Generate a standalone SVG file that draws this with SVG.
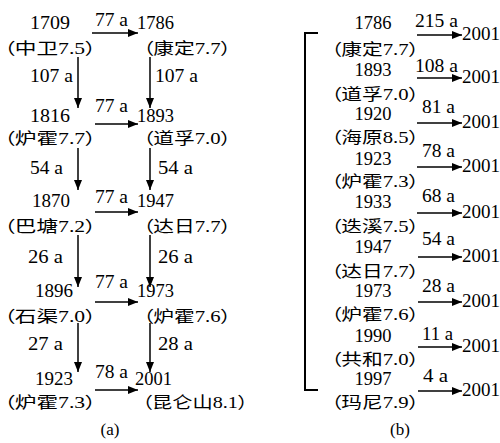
<svg xmlns="http://www.w3.org/2000/svg" width="500" height="443" viewBox="0 0 500 443">
<style>
text{font-family:"Liberation Serif","Noto Sans CJK SC",serif;fill:#000}
.y{font-size:18px}
.p{font-size:16px;font-feature-settings:"palt" 1}
.l{font-size:18px}
.c{font-size:17px}
.e{stroke:#000;stroke-width:1.5;fill:none;marker-end:url(#ah)}
.br{stroke:#000;stroke-width:2;fill:none}
</style>
<defs>
<marker id="ah" markerUnits="userSpaceOnUse" markerWidth="10" markerHeight="8" refX="10" refY="4" orient="auto">
<path d="M0,0 L10,4 L0,8 z" fill="#000"/>
</marker>
</defs>
<rect width="500" height="443" fill="#fff"/>
<g id="panel-a">
<g id="n1709"><text class="y" x="30" y="29" textLength="40" lengthAdjust="spacingAndGlyphs">1709</text><text class="p" x="4" y="54" textLength="92" lengthAdjust="spacingAndGlyphs">（中卫7.5）</text></g>
<g id="n1816"><text class="y" x="30" y="122" textLength="40" lengthAdjust="spacingAndGlyphs">1816</text><text class="p" x="4" y="144" textLength="92" lengthAdjust="spacingAndGlyphs">（炉霍7.7）</text></g>
<g id="n1870"><text class="y" x="32" y="207" textLength="38" lengthAdjust="spacingAndGlyphs">1870</text><text class="p" x="4" y="232" textLength="92" lengthAdjust="spacingAndGlyphs">（巴塘7.2）</text></g>
<g id="n1896"><text class="y" x="35" y="297" textLength="38" lengthAdjust="spacingAndGlyphs">1896</text><text class="p" x="4" y="322" textLength="92" lengthAdjust="spacingAndGlyphs">（石渠7.0）</text></g>
<g id="n1923a"><text class="y" x="35" y="385" textLength="38" lengthAdjust="spacingAndGlyphs">1923</text><text class="p" x="4" y="408" textLength="92" lengthAdjust="spacingAndGlyphs">（炉霍7.3）</text></g>
<g id="n1786a"><text class="y" x="137" y="29" textLength="37" lengthAdjust="spacingAndGlyphs">1786</text><text class="p" x="143" y="54" textLength="88" lengthAdjust="spacingAndGlyphs">（康定7.7）</text></g>
<g id="n1893a"><text class="y" x="137" y="122" textLength="37" lengthAdjust="spacingAndGlyphs">1893</text><text class="p" x="143" y="144" textLength="88" lengthAdjust="spacingAndGlyphs">（道孚7.0）</text></g>
<g id="n1947a"><text class="y" x="137" y="207" textLength="37" lengthAdjust="spacingAndGlyphs">1947</text><text class="p" x="143" y="232" textLength="88" lengthAdjust="spacingAndGlyphs">（达日7.7）</text></g>
<g id="n1973a"><text class="y" x="137" y="297" textLength="37" lengthAdjust="spacingAndGlyphs">1973</text><text class="p" x="143" y="322" textLength="88" lengthAdjust="spacingAndGlyphs">（炉霍7.6）</text></g>
<g id="n2001a"><text class="y" x="135" y="385" textLength="37" lengthAdjust="spacingAndGlyphs">2001</text><text class="p" x="142" y="408" textLength="106" lengthAdjust="spacingAndGlyphs">（昆仑山8.1）</text></g>
<g id="conn-a">
<path class="e" d="M92,33 H138"/>
<path class="e" d="M95,124 H138"/>
<path class="e" d="M95,212 H138"/>
<path class="e" d="M95,302 H138"/>
<path class="e" d="M95,390 H138"/>
<path class="e" d="M78,57 V108"/>
<path class="e" d="M78,148 V190"/>
<path class="e" d="M78,235 V287"/>
<path class="e" d="M78,323 V372"/>
<path class="e" d="M150,57 V108"/>
<path class="e" d="M150,148 V190"/>
<path class="e" d="M150,235 V287"/>
<path class="e" d="M150,323 V372"/>
<g id="labels-a">
<text class="l" x="95" y="26" textLength="33" lengthAdjust="spacingAndGlyphs">77 a</text>
<text class="l" x="95" y="112" textLength="33" lengthAdjust="spacingAndGlyphs">77 a</text>
<text class="l" x="95" y="203" textLength="33" lengthAdjust="spacingAndGlyphs">77 a</text>
<text class="l" x="95" y="288" textLength="33" lengthAdjust="spacingAndGlyphs">77 a</text>
<text class="l" x="95" y="378" textLength="33" lengthAdjust="spacingAndGlyphs">78 a</text>
<text class="l" x="30" y="82" textLength="43" lengthAdjust="spacingAndGlyphs">107 a</text>
<text class="l" x="30" y="174" textLength="33" lengthAdjust="spacingAndGlyphs">54 a</text>
<text class="l" x="28" y="263" textLength="35" lengthAdjust="spacingAndGlyphs">26 a</text>
<text class="l" x="28" y="350" textLength="35" lengthAdjust="spacingAndGlyphs">27 a</text>
<text class="l" x="155" y="82" textLength="43" lengthAdjust="spacingAndGlyphs">107 a</text>
<text class="l" x="158" y="174" textLength="35" lengthAdjust="spacingAndGlyphs">54 a</text>
<text class="l" x="158" y="263" textLength="35" lengthAdjust="spacingAndGlyphs">26 a</text>
<text class="l" x="158" y="350" textLength="35" lengthAdjust="spacingAndGlyphs">28 a</text>
</g>
</g>
<text class="c" x="110" y="435" text-anchor="middle">(a)</text>
</g>
<g id="panel-b">
<path class="br" d="M318,33 H305 V390 H318"/>
<g id="b1786"><text class="y" x="373" y="29" text-anchor="middle" textLength="37" lengthAdjust="spacingAndGlyphs">1786</text><text class="p" x="331" y="55" textLength="88" lengthAdjust="spacingAndGlyphs">（康定7.7）</text></g>
<g id="b1893"><text class="y" x="373" y="76" text-anchor="middle" textLength="37" lengthAdjust="spacingAndGlyphs">1893</text><text class="p" x="331" y="100" textLength="88" lengthAdjust="spacingAndGlyphs">（道孚7.0）</text></g>
<g id="b1920"><text class="y" x="373" y="120" text-anchor="middle" textLength="37" lengthAdjust="spacingAndGlyphs">1920</text><text class="p" x="331" y="143" textLength="88" lengthAdjust="spacingAndGlyphs">（海原8.5）</text></g>
<g id="b1923"><text class="y" x="373" y="165" text-anchor="middle" textLength="37" lengthAdjust="spacingAndGlyphs">1923</text><text class="p" x="331" y="187" textLength="88" lengthAdjust="spacingAndGlyphs">（炉霍7.3）</text></g>
<g id="b1933"><text class="y" x="373" y="208" text-anchor="middle" textLength="37" lengthAdjust="spacingAndGlyphs">1933</text><text class="p" x="331" y="232" textLength="88" lengthAdjust="spacingAndGlyphs">（迭溪7.5）</text></g>
<g id="b1947"><text class="y" x="373" y="253" text-anchor="middle" textLength="37" lengthAdjust="spacingAndGlyphs">1947</text><text class="p" x="331" y="277" textLength="88" lengthAdjust="spacingAndGlyphs">（达日7.7）</text></g>
<g id="b1973"><text class="y" x="373" y="297" text-anchor="middle" textLength="37" lengthAdjust="spacingAndGlyphs">1973</text><text class="p" x="331" y="320" textLength="88" lengthAdjust="spacingAndGlyphs">（炉霍7.6）</text></g>
<g id="b1990"><text class="y" x="373" y="342" text-anchor="middle" textLength="37" lengthAdjust="spacingAndGlyphs">1990</text><text class="p" x="331" y="365" textLength="88" lengthAdjust="spacingAndGlyphs">（共和7.0）</text></g>
<g id="b1997"><text class="y" x="373" y="385" text-anchor="middle" textLength="37" lengthAdjust="spacingAndGlyphs">1997</text><text class="p" x="331" y="408" textLength="88" lengthAdjust="spacingAndGlyphs">（玛尼7.9）</text></g>
<g id="b2001-1"><text class="y" x="462" y="40" textLength="38" lengthAdjust="spacingAndGlyphs">2001</text></g>
<g id="b2001-2"><text class="y" x="462" y="83" textLength="38" lengthAdjust="spacingAndGlyphs">2001</text></g>
<g id="b2001-3"><text class="y" x="462" y="128" textLength="38" lengthAdjust="spacingAndGlyphs">2001</text></g>
<g id="b2001-4"><text class="y" x="462" y="172" textLength="38" lengthAdjust="spacingAndGlyphs">2001</text></g>
<g id="b2001-5"><text class="y" x="462" y="218" textLength="38" lengthAdjust="spacingAndGlyphs">2001</text></g>
<g id="b2001-6"><text class="y" x="462" y="262" textLength="38" lengthAdjust="spacingAndGlyphs">2001</text></g>
<g id="b2001-7"><text class="y" x="462" y="307" textLength="38" lengthAdjust="spacingAndGlyphs">2001</text></g>
<g id="b2001-8"><text class="y" x="462" y="352" textLength="38" lengthAdjust="spacingAndGlyphs">2001</text></g>
<g id="b2001-9"><text class="y" x="462" y="396" textLength="38" lengthAdjust="spacingAndGlyphs">2001</text></g>
<g id="conn-b">
<path class="e" d="M417,35 H462"/>
<path class="e" d="M417,78 H462"/>
<path class="e" d="M417,123 H462"/>
<path class="e" d="M417,167 H462"/>
<path class="e" d="M417,213 H462"/>
<path class="e" d="M418,257 H462"/>
<path class="e" d="M418,302 H462"/>
<path class="e" d="M418,347 H462"/>
<path class="e" d="M418,391 H462"/>
<g id="labels-b">
<text class="l" x="415" y="27" textLength="43" lengthAdjust="spacingAndGlyphs">215 a</text>
<text class="l" x="415" y="72" textLength="43" lengthAdjust="spacingAndGlyphs">108 a</text>
<text class="l" x="422" y="113" textLength="33" lengthAdjust="spacingAndGlyphs">81 a</text>
<text class="l" x="422" y="157" textLength="33" lengthAdjust="spacingAndGlyphs">78 a</text>
<text class="l" x="422" y="202" textLength="33" lengthAdjust="spacingAndGlyphs">68 a</text>
<text class="l" x="422" y="245" textLength="33" lengthAdjust="spacingAndGlyphs">54 a</text>
<text class="l" x="422" y="292" textLength="33" lengthAdjust="spacingAndGlyphs">28 a</text>
<text class="l" x="422" y="340" textLength="31" lengthAdjust="spacingAndGlyphs">11 a</text>
<text class="l" x="423" y="382" textLength="25" lengthAdjust="spacingAndGlyphs">4 a</text>
</g>
</g>
<text class="c" x="400" y="435" text-anchor="middle">(b)</text>
</g>
</svg>
